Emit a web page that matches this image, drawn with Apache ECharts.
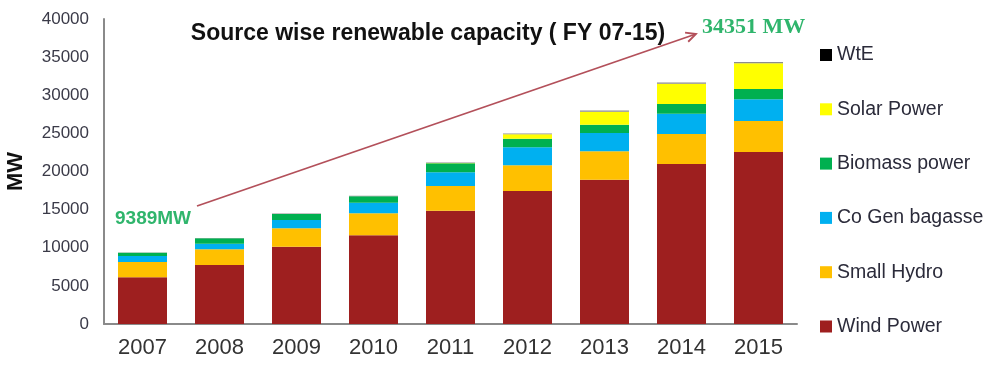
<!DOCTYPE html>
<html>
<head>
<meta charset="utf-8">
<script src="https://cdn.jsdelivr.net/npm/echarts@6/dist/echarts.min.js"></script>
<style>
  html, body { margin: 0; padding: 0; background: #fff; }
  #chart { width: 991px; height: 374px; }
</style>
</head>
<body>
<div id="chart"></div>
<script>
// categories
var years = ['2007', '2008', '2009', '2010', '2011', '2012', '2013', '2014', '2015'];
// MW values
var windPower = [6120, 7740, 10140, 11630, 14860, 17440, 18930, 20980, 22560];
var smallHydro = [2010, 2050, 2410, 2890, 3240, 3370, 3710, 3940, 4060];
var coGen = [790, 740, 1090, 1390, 1790, 2360, 2410, 2660, 2840];
var biomass = [430, 700, 790, 830, 1180, 1130, 1090, 1270, 1360];
var solar = [0, 0, 0, 10, 40, 600, 1710, 2670, 3370];
var wte = [39, 50, 60, 70, 75, 100, 150, 150, 161];
var yTicks = [0, 5000, 10000, 15000, 20000, 25000, 30000, 35000, 40000];

var myChart = echarts.init(document.getElementById('chart'));

function barSeries(name, data, color) {
	return {
		name: name,
		type: 'bar',
		stack: 'total',
		barWidth: 49,
		data: data,
		itemStyle: { color: color },
		emphasis: { disabled: true }
	};
}

// 箭头 (annotation only)
var p0 = [197, 206], p1 = [696, 34];
var ang = Math.atan2(p1[1] - p0[1], p1[0] - p0[0]);
var headLen = 11, headAng = 0.45;
var h1 = [p1[0] - headLen * Math.cos(ang - headAng), p1[1] - headLen * Math.sin(ang - headAng)];
var h2 = [p1[0] - headLen * Math.cos(ang + headAng), p1[1] - headLen * Math.sin(ang + headAng)];
var arrowColor = '#b3505a';

var option = {
	backgroundColor: '#fff',
	animation: false,
	textStyle: { fontFamily: 'Liberation Sans, Arial, sans-serif' },
	title: {
		text: 'Source wise renewable capacity ( FY 07-15)',
		left: 423,
		textAlign: 'center',
		top: 17,
		textStyle: { fontSize: 23, fontWeight: 'bold', color: '#111' }
	},
	legend: {
		orient: 'vertical',
		left: 815,
		top: 40,
		itemWidth: 12,
		itemHeight: 12,
		itemGap: 34.3,
		icon: 'rect',
		textStyle: { fontSize: 19.5, color: '#2b2b3a' },
		data: [
			{ name: 'WtE', itemStyle: { color: '#000' } },
			'Solar Power',
			'Biomass power',
			'Co Gen bagasse',
			'Small Hydro',
			'Wind Power'
		]
	},
	grid: { left: 104, right: 194, top: 19, bottom: 50, outerBoundsMode: 'none', containLabel: false },
	xAxis: {
		type: 'category',
		data: years,
		axisLine: { lineStyle: { color: '#8a8a8a', width: 2 } },
		axisTick: { show: false },
		axisLabel: { fontSize: 22, color: '#333', margin: 13 }
	},
	yAxis: {
		type: 'value',
		min: yTicks[0],
		max: yTicks[yTicks.length - 1],
		interval: yTicks[1] - yTicks[0],
		name: 'MW',
		nameLocation: 'middle',
		nameRotate: 90,
		nameGap: 77,
		nameTextStyle: { fontSize: 22, fontWeight: 'bold', color: '#111' },
		axisLine: { show: true, lineStyle: { color: '#8a8a8a', width: 2 } },
		axisTick: { show: false },
		splitLine: { show: false },
		axisLabel: {
			fontSize: 17,
			color: '#3a3a48',
			margin: 15,
			formatter: function (v) { return String(v); }
		}
	},
	series: [
		barSeries('Wind Power', windPower, '#9e1f1f'),
		barSeries('Small Hydro', smallHydro, '#ffc000'),
		barSeries('Co Gen bagasse', coGen, '#00b0f0'),
		barSeries('Biomass power', biomass, '#00b050'),
		barSeries('Solar Power', solar, '#ffff00'),
		barSeries('WtE', wte, '#8c8c8c')
	],
	graphic: [
		{
			type: 'line',
			shape: { x1: p0[0], y1: p0[1], x2: p1[0], y2: p1[1] },
			style: { stroke: arrowColor, lineWidth: 1.8 }
		},
		{
			type: 'polyline',
			shape: { points: [h1, p1, h2] },
			style: { stroke: arrowColor, lineWidth: 1.8, fill: null }
		},
		{
			type: 'text',
			left: 115,
			top: 209,
			style: {
				text: '9389MW',
				font: 'bold 19px "Liberation Sans", Arial, sans-serif',
				fill: '#2fb56c'
			}
		},
		{
			type: 'text',
			left: 702,
			top: 16,
			style: {
				text: '34351 MW',
				font: 'bold 22px "Liberation Serif", "Times New Roman", serif',
				fill: '#2fb56c'
			}
		}
	]
};

myChart.setOption(option);
</script>
</body>
</html>
